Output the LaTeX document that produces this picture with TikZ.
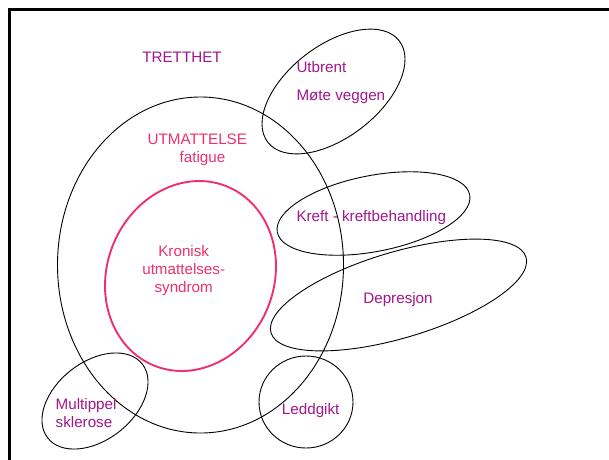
\documentclass[tikz,border=0pt]{standalone}
\usepackage{fontspec}
\setmainfont{Liberation Sans}
\definecolor{purp}{HTML}{A0168C}
\definecolor{pinkc}{HTML}{F0306A}
\begin{document}
\begin{tikzpicture}[x=1pt,y=-1pt,
  lbl/.style={inner sep=0pt, font=\fontsize{15.2}{18}\selectfont, text=purp},
  plbl/.style={lbl, text=pinkc},
  ell/.style={draw=black, line width=0.9pt},
  pell/.style={draw=pinkc, line width=1.9pt},
  frame/.style={draw=black, line width=3pt}]
\useasboundingbox (0,0) rectangle (609,459);
% frame
\draw[frame] (9,470) -- (9,9) -- (620,9);
% ellipses
\draw[ell] (200.5,265) ellipse [x radius=143pt, y radius=168pt];
\draw[pell, rotate around={-22:(190.5,276)}] (190.5,276) ellipse [x radius=83.5pt, y radius=96.7pt];
\draw[ell, rotate around={37.6:(333.5,91.5)}] (333.5,91.5) ellipse [x radius=83pt, y radius=46pt];
\draw[ell, rotate around={11:(373.5,213.5)}] (373.5,213.5) ellipse [x radius=98pt, y radius=38pt];
\draw[ell, rotate around={16.5:(398.5,295)}] (398.5,295) ellipse [x radius=133pt, y radius=43pt];
\draw[ell, rotate around={38:(95,401)}] (95,401) ellipse [x radius=60pt, y radius=39pt];
\draw[ell] (306,402) ellipse [x radius=47pt, y radius=46pt];
% labels
\node[lbl, anchor=base] (tretthet) at (182,62) {TRETTHET};
\node[lbl, anchor=base west] (utbrent) at (296.3,72.5) {Utbrent};
\node[lbl, anchor=base west] (mote) at (296.3,100) {Møte veggen};
\node[plbl, anchor=base] (utmattelse) at (197.3,144) {UTMATTELSE};
\node[plbl, anchor=base] (fatigue) at (202.5,162.3) {fatigue};
\node[lbl, anchor=base west] (kreft) at (296.3,221.7) {Kreft - kreftbehandling};
\node[plbl, anchor=base] (kronisk) at (183.7,256) {Kronisk};
\node[plbl, anchor=base] (utmattelses) at (183.7,274) {utmattelses-};
\node[plbl, anchor=base] (syndrom) at (183.7,292) {syndrom};
\node[lbl, anchor=base] (depresjon) at (398,303.3) {Depresjon};
\node[lbl, anchor=base west] (multippel) at (55.5,409.3) {Multippel};
\node[lbl, anchor=base west] (sklerose) at (55.5,427.3) {sklerose};
\node[lbl, anchor=base] (leddgikt) at (310.7,414.3) {Leddgikt};
\end{tikzpicture}
\end{document}
